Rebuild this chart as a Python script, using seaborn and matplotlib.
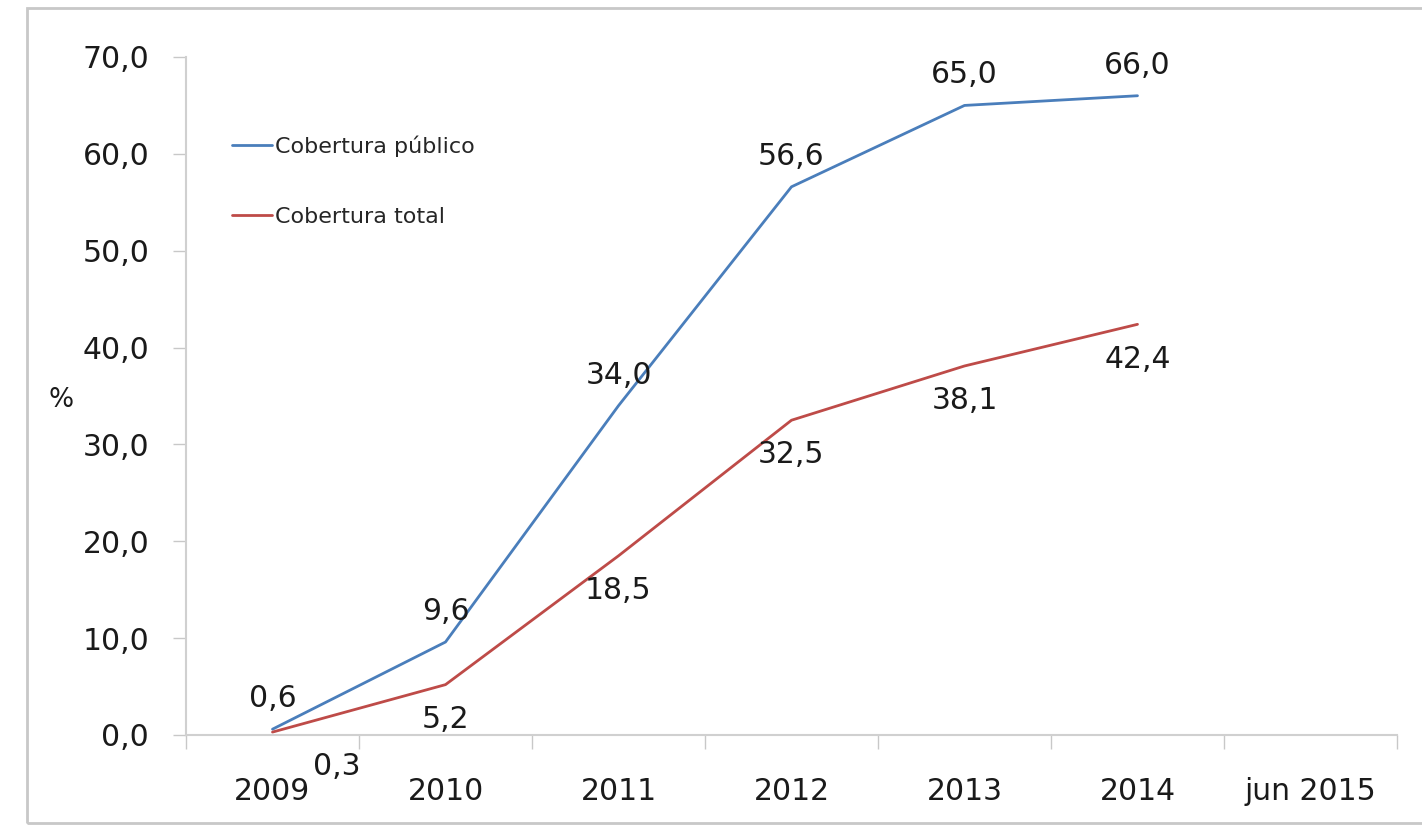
import numpy as np
import pandas as pd
import matplotlib
matplotlib.use("Agg")
import matplotlib.pyplot as plt
import seaborn as sns
from matplotlib.patches import Rectangle

categories = ["2009", "2010", "2011", "2012", "2013", "2014", "jun 2015"]
publico = [0.6, 9.6, 34.0, 56.6, 65.0, 66.0, np.nan]
total = [0.3, 5.2, 18.5, 32.5, 38.1, 42.4, np.nan]
series_names = ["Cobertura público", "Cobertura total"]
yticks = [0, 10, 20, 30, 40, 50, 60, 70]

sns.set_theme(style="white")
plt.rcParams['font.family'] = ['DejaVu Sans']

pos = list(range(len(categories)))
df = pd.DataFrame({
    "x": pos * 2,
    "y": publico + total,
    "serie": [series_names[0]] * len(pos) + [series_names[1]] * len(pos),
})

fig = plt.figure(figsize=(14.22, 8.25), dpi=100)
ax = fig.add_axes([186/1422, 1 - 735/825, (1397-186)/1422, (735-57)/825])

colors = {series_names[0]: "#4A7EBB", series_names[1]: "#BE4B48"}
sns.lineplot(data=df.dropna(), x="x", y="y", hue="serie", palette=colors,
             linewidth=2, ax=ax, legend=True)

txt = "#1a1a1a"
ax.set_xlim(-0.5, len(categories) - 0.5)
ax.set_ylim(0, 70)
ax.set_yticks(yticks)
ax.set_yticklabels([f"{v:.1f}".replace(".", ",") for v in yticks], fontsize=21.5, color=txt)
ax.set_xticks(pos)
ax.set_xticklabels(categories, fontsize=21.5, color=txt)
ax.set_xticks([p - 0.5 for p in pos] + [len(pos) - 0.5], minor=True)
ax.tick_params(axis="x", which="major", length=0, pad=30)
ax.tick_params(axis="x", which="minor", length=10, width=1, color="#C8C8C8", direction="out", bottom=True)
ax.tick_params(axis="y", which="major", length=9.5, width=1, color="#C8C8C8", direction="out", left=True, pad=17)
ax.set_xlabel("")
ax.set_ylabel("%", rotation=0, fontsize=19, color=txt)
ax.yaxis.set_label_coords(-0.103, 0.475)

for s in ["top", "right"]:
    ax.spines[s].set_visible(False)
for s in ["left", "bottom"]:
    ax.spines[s].set_color("#D0D0D0")
    ax.spines[s].set_linewidth(1.5)

def fmt(v):
    return f"{v:.1f}".replace(".", ",")

for i, v in enumerate(publico):
    if np.isnan(v):
        continue
    ax.annotate(fmt(v), (i, v), xytext=(0, 22), textcoords="offset points",
                ha="center", va="center", fontsize=21.5, color=txt)
for i, v in enumerate(total):
    if np.isnan(v):
        continue
    dx = 46 if i == 0 else 0
    ax.annotate(fmt(v), (i, v), xytext=(dx, -25), textcoords="offset points",
                ha="center", va="center", fontsize=21.5, color=txt)

leg = ax.legend(loc="upper left", bbox_to_anchor=(0.038, 0.884), frameon=False,
                fontsize=16, handlelength=1.8, handletextpad=0.15,
                labelspacing=2.25, borderpad=0, borderaxespad=0, title=None)

fig.patches.append(Rectangle((27/1422, 1 - 823/825), 1.0, (823-8)/825,
                             transform=fig.transFigure, fill=False,
                             edgecolor="#C8C8C8", linewidth=2, zorder=0))

fig.savefig("out.png", dpi=100)
